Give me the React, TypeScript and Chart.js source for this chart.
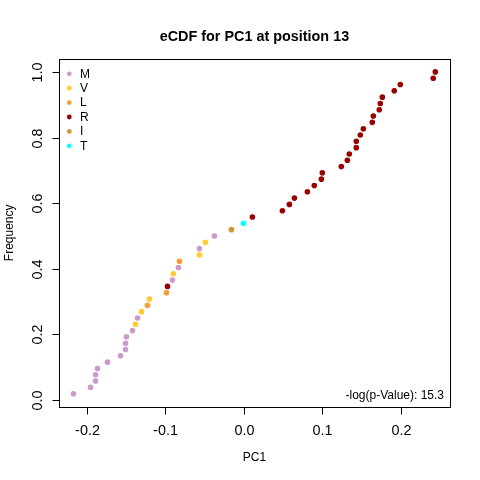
import React, { useEffect, useRef } from "react";
import { Chart, registerables } from "chart.js";

Chart.register(...registerables);

const pc1Values = [
  -0.2171, -0.1954, -0.189, -0.189, -0.1865, -0.1738, -0.1572, -0.1508, -0.1508, -0.1496,
  -0.1419, -0.1381, -0.1355, -0.1304, -0.1228, -0.1203, -0.0986, -0.0973, -0.091, -0.0897,
  -0.0833, -0.082, -0.0566, -0.0566, -0.0489, -0.0375, -0.0158, -0.0005, 0.011, 0.0492,
  0.0581, 0.0645, 0.081, 0.0899, 0.0989, 0.1001, 0.1243, 0.132, 0.1345, 0.1434,
  0.1434, 0.1485, 0.1524, 0.1638, 0.1651, 0.1727, 0.174, 0.1766, 0.1918, 0.1995,
  0.2415, 0.2441,
];

const frequencyValues = [
  0.0192, 0.0385, 0.0577, 0.0769, 0.0962, 0.1154, 0.1346, 0.1538, 0.1731, 0.1923,
  0.2115, 0.2308, 0.25, 0.2692, 0.2885, 0.3077, 0.3269, 0.3462, 0.3654, 0.3846,
  0.4038, 0.4231, 0.4423, 0.4615, 0.4808, 0.5, 0.5192, 0.5385, 0.5577, 0.5769,
  0.5962, 0.6154, 0.6346, 0.6538, 0.6731, 0.6923, 0.7115, 0.7308, 0.75, 0.7692,
  0.7885, 0.8077, 0.8269, 0.8462, 0.8654, 0.8846, 0.9038, 0.9231, 0.9423, 0.9615,
  0.9808, 1.0,
];

const residues = [
  "M", "M", "M", "M", "M", "M", "M", "M", "M", "M",
  "M", "V", "M", "V", "L", "V", "L", "R", "M", "V",
  "M", "L", "V", "M", "V", "M", "I", "T", "R", "R",
  "R", "R", "R", "R", "R", "R", "R", "R", "R", "R",
  "R", "R", "R", "R", "R", "R", "R", "R", "R", "R",
  "R", "R",
];

const legendLabels = ["M", "V", "L", "R", "I", "T"];
const legendColors = ["#CC99CC", "#FFCC33", "#FF9933", "#990000", "#CC9933", "#00FFFF"];

const xTicks = [-0.2, -0.1, 0.0, 0.1, 0.2];
const xTickLabels = ["-0.2", "-0.1", "0.0", "0.1", "0.2"];
const yTicks = [0.0, 0.2, 0.4, 0.6, 0.8, 1.0];
const yTickLabels = ["0.0", "0.2", "0.4", "0.6", "0.8", "1.0"];

const titleText = "eCDF for PC1 at position 13";
const xTitle = "PC1";
const yTitle = "Frequency";
const noteText = "-log(p-Value): 15.3";

const FONT = '"Liberation Sans", Arial, Helvetica, sans-serif';

function extendRange(vals: number[]) {
  const lo = Math.min(...vals);
  const hi = Math.max(...vals);
  const d = (hi - lo) * 0.04;
  return [lo - d, hi + d];
}

const rPlotPlugin = {
  id: "rPlot",
  afterDraw(chart: any) {
    const ctx = chart.ctx as CanvasRenderingContext2D;
    const area = chart.chartArea;
    const xs = chart.scales.x;
    const ys = chart.scales.y;
    ctx.save();
    ctx.strokeStyle = "#000";
    ctx.fillStyle = "#000";
    ctx.lineWidth = 1;

    const L = Math.round(area.left) + 0.5;
    const R = Math.round(area.right) + 0.5;
    const T = Math.round(area.top) + 0.5;
    const B = Math.round(area.bottom) + 0.5;

    // box
    ctx.strokeRect(L, T, R - L, B - T);

    // x axis
    const xp = xTicks.map((v) => Math.round(xs.getPixelForValue(v)) + 0.5);
    ctx.beginPath();
    ctx.moveTo(xp[0], B);
    ctx.lineTo(xp[xp.length - 1], B);
    xp.forEach((p) => {
      ctx.moveTo(p, B);
      ctx.lineTo(p, B + 7);
    });
    ctx.stroke();
    ctx.font = `14.4px ${FONT}`;
    ctx.textAlign = "center";
    ctx.textBaseline = "alphabetic";
    xp.forEach((p, i) => ctx.fillText(xTickLabels[i], p, 434.5));

    // y axis
    const yp = yTicks.map((v) => Math.round(ys.getPixelForValue(v)) + 0.5);
    ctx.beginPath();
    ctx.moveTo(L, yp[0]);
    ctx.lineTo(L, yp[yp.length - 1]);
    yp.forEach((p) => {
      ctx.moveTo(L, p);
      ctx.lineTo(L - 7, p);
    });
    ctx.stroke();
    yp.forEach((p, i) => {
      ctx.save();
      ctx.translate(41.8, p);
      ctx.rotate(-Math.PI / 2);
      ctx.fillText(yTickLabels[i], 0, 0);
      ctx.restore();
    });

    // axis titles
    ctx.font = `12px ${FONT}`;
    const cx = (area.left + area.right) / 2;
    const cy = (area.top + area.bottom) / 2;
    ctx.fillText(xTitle, cx, 461);
    ctx.save();
    ctx.translate(13, cy);
    ctx.rotate(-Math.PI / 2);
    ctx.fillText(yTitle, 0, 0);
    ctx.restore();

    // title
    ctx.font = `bold 14.4px ${FONT}`;
    ctx.fillText(titleText, cx, 41);

    // legend
    ctx.font = `12px ${FONT}`;
    ctx.textAlign = "left";
    ctx.textBaseline = "middle";
    legendLabels.forEach((lab, i) => {
      const y = 73.8 + i * 14.4;
      ctx.fillStyle = legendColors[i];
      ctx.beginPath();
      ctx.arc(69.3, y, 2.4, 0, Math.PI * 2);
      ctx.fill();
      ctx.fillStyle = "#000";
      ctx.fillText(lab, 80, y + 0.5);
    });

    // note
    ctx.textAlign = "right";
    ctx.textBaseline = "alphabetic";
    ctx.fillText(noteText, 444, 398.5);

    ctx.restore();
  },
};

export default function App() {
  const ref = useRef<HTMLCanvasElement | null>(null);

  useEffect(() => {
    if (!ref.current) return;
    const [xMin, xMax] = extendRange(pc1Values);
    const [yMin, yMax] = extendRange(frequencyValues);
    const colorOf = (r: string) => legendColors[legendLabels.indexOf(r)];
    const chart = new Chart(ref.current, {
      type: "scatter",
      data: {
        datasets: [
          {
            data: pc1Values.map((x, i) => ({ x, y: frequencyValues[i] })),
            pointBackgroundColor: residues.map(colorOf),
            pointBorderWidth: 0,
            pointRadius: 2.8,
            pointHoverRadius: 2.8,
          },
        ],
      },
      options: {
        animation: false,
        responsive: false,
        devicePixelRatio: 1,
        layout: { padding: { left: 59.04, right: 30.24, top: 59.04, bottom: 73.44 } },
        plugins: { legend: { display: false }, tooltip: { enabled: false }, title: { display: false } },
        events: [],
        scales: {
          x: { type: "linear", display: false, min: xMin, max: xMax },
          y: { type: "linear", display: false, min: yMin, max: yMax },
        },
      },
      plugins: [rPlotPlugin],
    });
    return () => chart.destroy();
  }, []);

  return (
    <div style={{ position: "fixed", left: 0, top: 0, width: 480, height: 480, background: "#fff" }}>
      <canvas ref={ref} width={480} height={480} style={{ display: "block", width: 480, height: 480 }} />
    </div>
  );
}
